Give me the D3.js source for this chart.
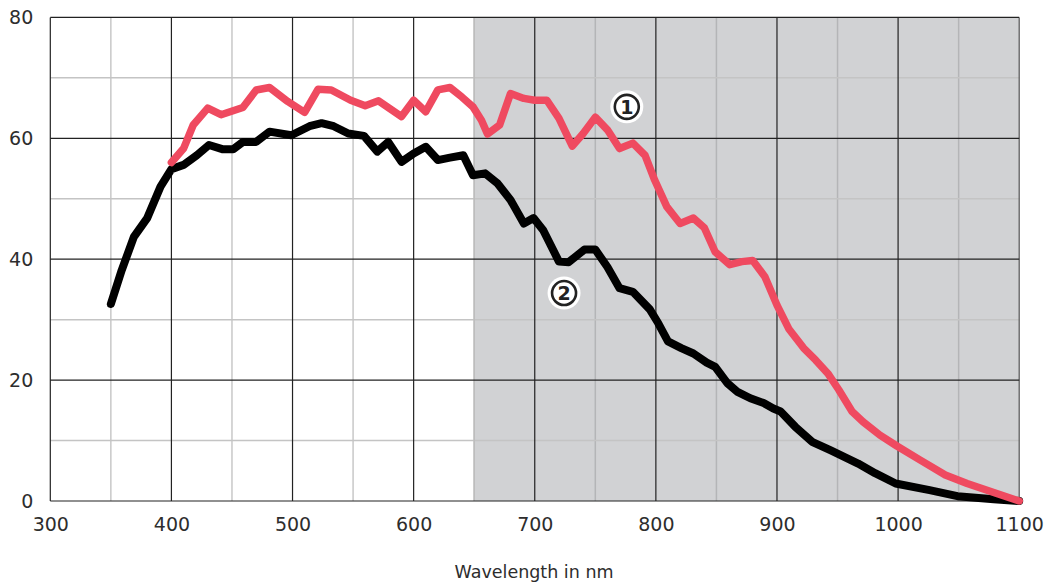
<!DOCTYPE html>
<html><head><meta charset="utf-8">
<script src="https://cdn.jsdelivr.net/npm/d3@7"></script>
<style>body{margin:0;background:#fff}svg{display:block}</style>
</head><body>
<svg id="c" width="1046" height="584"></svg>
<script>
const xTicks = [300,400,500,600,700,800,900,1000,1100];
const yTicks = [0,20,40,60,80];
const shadeRange = [650,1100];
const xLabel = "Wavelength in nm";

const wl1 = [400,410,418,430,441,459,470,481,496,510,521,532,548,560,571,590,600,610,620,630,640,649,656,661,671,680,691,700,710,720,731,740,750,760,770,781,791,799,809,820,831,840,849,861,871,880,890,900,910,922,932,942,951,962,971,985,999,1018,1039,1057,1079,1100];
const val1 = [56.0,58.3,62.2,65.0,63.9,65.1,68.0,68.4,66.1,64.3,68.1,68.0,66.3,65.4,66.2,63.6,66.3,64.4,68.0,68.4,66.8,65.2,63.0,60.7,62.2,67.4,66.6,66.3,66.3,63.3,58.7,60.8,63.5,61.4,58.3,59.2,57.2,53.1,48.7,45.9,46.8,45.2,41.2,39.1,39.6,39.8,37.1,32.4,28.4,25.3,23.3,21.1,18.4,14.8,13.1,10.9,9.1,6.8,4.3,2.9,1.4,0];

const wl2 = [350,359,369,380,391,400,410,421,431,442,451,459,470,481,499,514,524,534,546,559,570,579,590,600,610,620,630,641,649,659,669,680,691,699,707,720,728,741,750,760,770,781,795,802,810,821,831,842,849,859,867,878,889,897,903,915,929,944,967,981,998,1026,1049,1079,1100];
const val2 = [32.6,38.2,43.7,46.8,52.0,54.9,55.6,57.2,58.9,58.2,58.2,59.4,59.4,61.1,60.5,62.0,62.5,62.0,60.8,60.4,57.8,59.4,56.1,57.5,58.6,56.4,56.8,57.2,53.9,54.2,52.6,49.8,45.9,46.8,44.8,39.6,39.5,41.6,41.6,38.7,35.2,34.6,31.7,29.4,26.4,25.3,24.4,22.9,22.2,19.5,18.1,17.0,16.2,15.3,14.8,12.3,9.8,8.4,6.2,4.6,2.9,1.8,0.8,0.3,0];

const labels = [{t:"1", x:776, y:65.2}, {t:"2", x:724.2, y:34.4}];

const svg = d3.select("#c");
const x = d3.scaleLinear().domain([300,1100]).range([50.3,1019.2]);
const y = d3.scaleLinear().domain([0,80]).range([501,17.4]);
const font = "DejaVu Sans, sans-serif";

// shaded region
svg.append("rect")
  .attr("x", x(shadeRange[0])).attr("y", y(80))
  .attr("width", x(shadeRange[1]) - x(shadeRange[0]))
  .attr("height", y(0) - y(80))
  .attr("fill", "#d1d2d4");

// minor grid
const minorX = d3.range(350,1100,100);
const minorY = d3.range(10,80,20);
svg.append("g").selectAll("line").data(minorX).join("line")
  .attr("x1", d=>x(d)).attr("x2", d=>x(d)).attr("y1", y(0)).attr("y2", y(80))
  .attr("stroke", d=> d>shadeRange[0] ? "#b4b5b7" : "#c8c8c8").attr("stroke-width", 1.5);
svg.append("g").selectAll("line").data(minorY).join("line")
  .attr("x1", x(300)).attr("x2", x(1100)).attr("y1", d=>y(d)).attr("y2", d=>y(d))
  .attr("stroke", "#c4c4c4").attr("stroke-width", 1.5);
svg.append("line").attr("x1", x(650)).attr("x2", x(650)).attr("y1", y(0)).attr("y2", y(80))
  .attr("stroke", "#bdbdbd").attr("stroke-width", 1.5);

// major grid
svg.append("g").selectAll("line").data(xTicks).join("line")
  .attr("x1", d=>x(d)).attr("x2", d=>x(d)).attr("y1", y(0)).attr("y2", y(80))
  .attr("stroke", d=> d===1100 ? "#555" : "#222").attr("stroke-width", 1.2);
svg.append("g").selectAll("line").data(yTicks).join("line")
  .attr("x1", x(300)).attr("x2", x(1100)).attr("y1", d=>y(d)).attr("y2", d=>y(d))
  .attr("stroke", "#222").attr("stroke-width", 1.2);

// axes labels
const xa = svg.append("g").attr("transform", `translate(0,${y(0)})`)
  .call(d3.axisBottom(x).tickValues(xTicks).tickSize(0).tickPadding(17).tickFormat(d3.format("d")));
xa.select(".domain").remove();
xa.selectAll("text").attr("font-family", font).attr("font-size", 19).attr("fill", "#2d2d2d");
const ya = svg.append("g").attr("transform", `translate(${x(300)},0)`)
  .call(d3.axisLeft(y).tickValues(yTicks).tickSize(0).tickPadding(17).tickFormat(d3.format("d")));
ya.select(".domain").remove();
ya.selectAll("text").attr("font-family", font).attr("font-size", 19).attr("fill", "#2d2d2d");

svg.append("text").attr("x", 534).attr("y", 578).attr("text-anchor", "middle")
  .attr("font-family", font).attr("font-size", 17.5).attr("fill", "#2d2d2d").text(xLabel);

// lines
const line = d3.line().x(d=>x(d[0])).y(d=>y(d[1]));
svg.append("path").datum(d3.zip(wl2,val2)).attr("d", line)
  .attr("fill","none").attr("stroke","#000").attr("stroke-width",8)
  .attr("stroke-linejoin","round").attr("stroke-linecap","round");
svg.append("path").datum(d3.zip(wl1,val1)).attr("d", line)
  .attr("fill","none").attr("stroke","#ef4a60").attr("stroke-width",7.5)
  .attr("stroke-linejoin","round").attr("stroke-linecap","round");

// circled labels
const lg = svg.append("g").selectAll("g").data(labels).join("g")
  .attr("transform", d=>`translate(${x(d.x)},${y(d.y)})`);
lg.append("circle").attr("r", 16.5).attr("fill", "#fff");
lg.append("circle").attr("r", 12).attr("fill", "none").attr("stroke", "#222").attr("stroke-width", 2.6);
lg.append("text").attr("text-anchor","middle").attr("dy","0.36em")
  .attr("font-family", font).attr("font-weight","bold").attr("font-size", 19).attr("fill","#222")
  .text(d=>d.t);
</script>
</body></html>
